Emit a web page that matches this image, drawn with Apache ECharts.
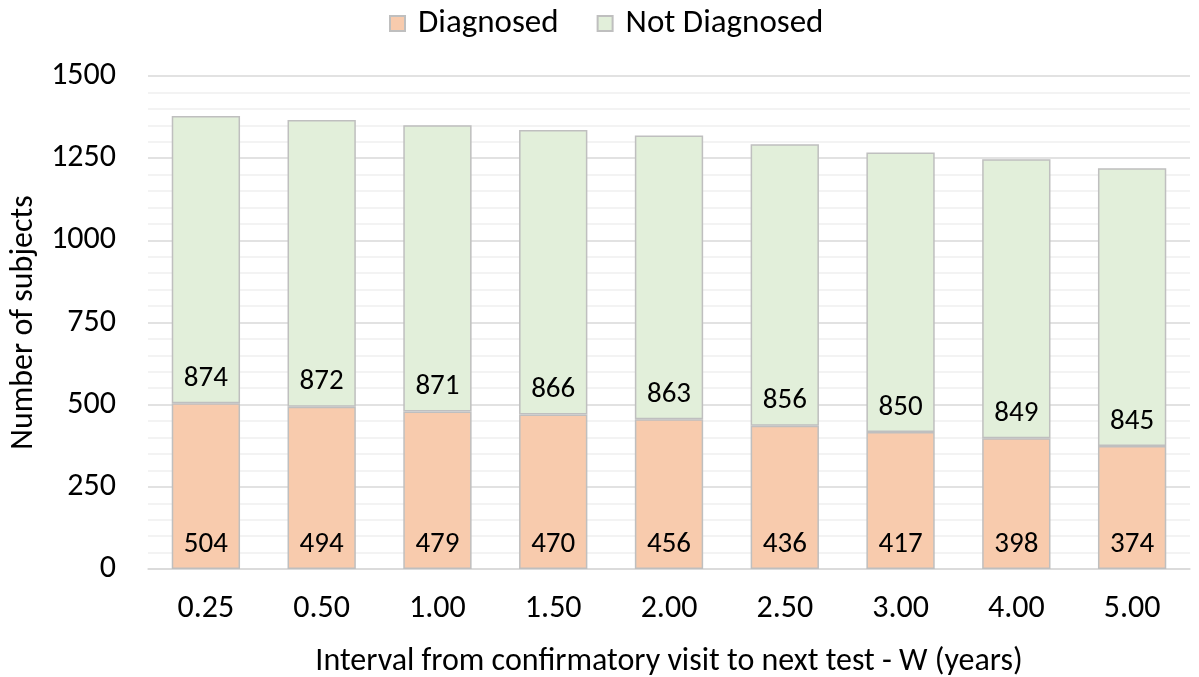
<!DOCTYPE html>
<html><head><meta charset="utf-8">
<script src="https://cdn.jsdelivr.net/npm/echarts@6/dist/echarts.min.js"></script>
<style>html,body{margin:0;padding:0;background:#fff}#c{width:1199px;height:677px}</style>
</head><body><div id="c"></div>
<script>
const categories = ['0.25','0.50','1.00','1.50','2.00','2.50','3.00','4.00','5.00'];
const diagnosed = [504,494,479,470,456,436,417,398,374];
const notDiagnosed = [874,872,871,866,863,856,850,849,845];
const seriesNames = ['Diagnosed','Not Diagnosed'];
const yTicks = [0,250,500,750,1000,1250,1500];

const FONT = 'Carlito, "Noto Sans", "Open Sans", sans-serif';
const chart = echarts.init(document.getElementById('c'), null, {renderer:'canvas'});
const labelCfg = {show:true, position:'insideBottom', distance:10, color:'#000', fontSize:29, fontFamily:FONT};
chart.setOption({
  animation:false,
  textStyle:{fontFamily:FONT},
  legend:{
    top:2, left:384, itemWidth:15, itemHeight:15, itemGap:38,
    icon:'rect',
    textStyle:{fontSize:33, color:'#000', fontFamily:FONT, padding:[0,0,0,8]},
    data:seriesNames
  },
  grid:{left:148, right:9, top:76, bottom:108, containLabel:false, outerBoundsMode:'none'},
  xAxis:{
    type:'category', data:categories,
    name:'Interval from confirmatory visit to next test - W (years)',
    nameLocation:'middle', nameGap:93,
    nameTextStyle:{fontSize:32, color:'#000', fontFamily:FONT, verticalAlign:'middle'},
    axisLine:{lineStyle:{color:'#d9d9d9', width:1.5}},
    axisTick:{show:false},
    axisLabel:{fontSize:32, color:'#000', margin:24, fontFamily:FONT}
  },
  yAxis:{
    type:'value', min:yTicks[0], max:yTicks[yTicks.length-1], interval:250,
    name:'Number of subjects', nameLocation:'middle', nameGap:123,
    nameTextStyle:{fontSize:32, color:'#000', fontFamily:FONT, verticalAlign:'middle'},
    axisLine:{show:false}, axisTick:{show:false},
    axisLabel:{fontSize:32, color:'#000', margin:32, fontFamily:FONT, formatter:(v)=>String(v)},
    splitLine:{lineStyle:{color:'#d9d9d9', width:1.5}},
    minorTick:{show:false, splitNumber:5},
    minorSplitLine:{show:true, lineStyle:{color:'#f0f0f0', width:1.5}}
  },
  series:[
    {name:seriesNames[0], type:'bar', stack:'t', data:diagnosed, barWidth:'59%',
     itemStyle:{color:'#F8CBAD', borderColor:'#bfbfbf', borderWidth:1.5}, label:labelCfg},
    {name:seriesNames[1], type:'bar', stack:'t', data:notDiagnosed, barWidth:'59%',
     itemStyle:{color:'#E2EFDA', borderColor:'#bfbfbf', borderWidth:1.5}, label:labelCfg}
  ]
});
</script></body></html>
